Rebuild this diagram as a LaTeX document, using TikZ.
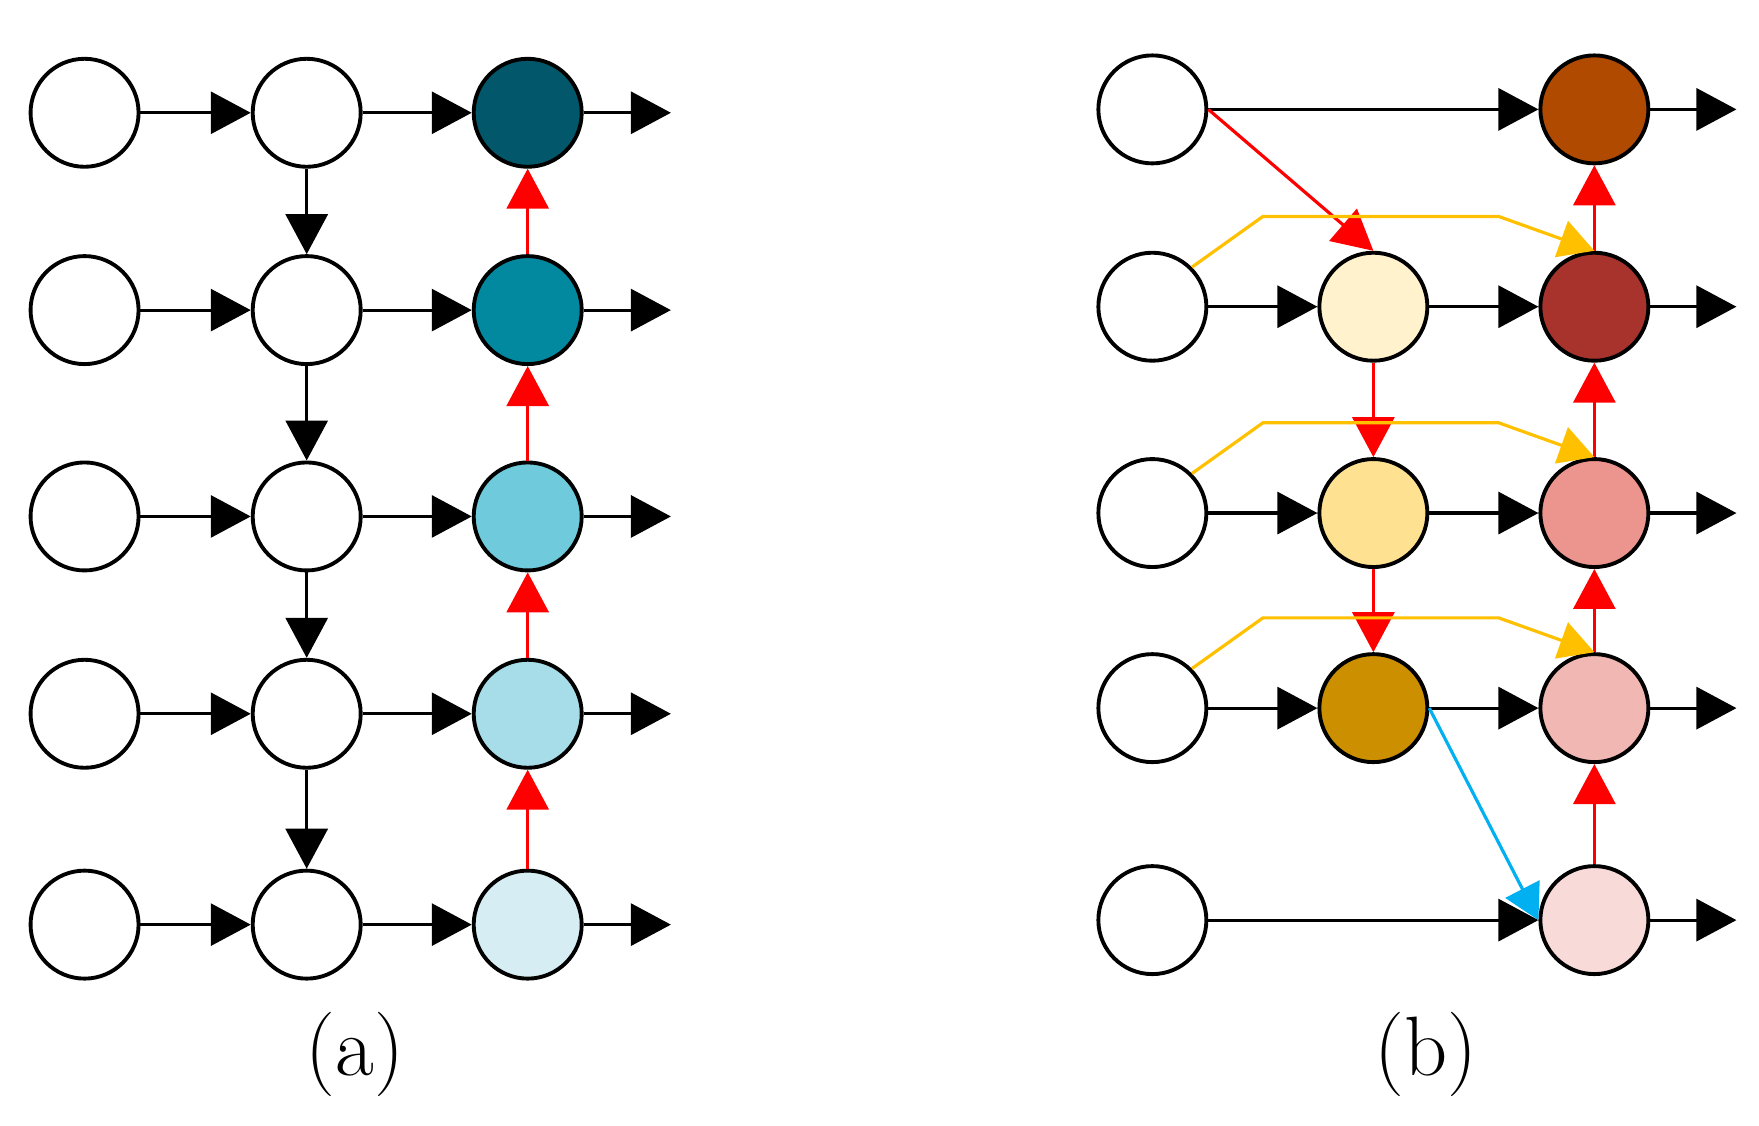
\documentclass[tikz,border=0pt]{standalone}
\usetikzlibrary{arrows.meta}
\definecolor{a1}{HTML}{02586A}\definecolor{a2}{HTML}{02889F}\definecolor{a3}{HTML}{6FCBDC}\definecolor{a4}{HTML}{A6DDE9}\definecolor{a5}{HTML}{D6EEF3}
\definecolor{b1}{HTML}{B04A00}\definecolor{b2}{HTML}{A8332C}\definecolor{b3}{HTML}{EC958E}\definecolor{b4}{HTML}{F1B7B2}\definecolor{b5}{HTML}{F8DAD8}
\definecolor{c2}{HTML}{FFF2CC}\definecolor{c3}{HTML}{FFE291}\definecolor{c4}{HTML}{CC8F00}
\definecolor{org}{HTML}{FFC000}\definecolor{blu}{HTML}{00B0F0}
\begin{document}
\begin{tikzpicture}[x=0.01128cm,y=-0.01128cm,
 nd/.style={circle,draw,line width=1.1pt,minimum size=1.08cm,inner sep=0pt,fill=white},
 ar/.style={line width=0.9pt,-{Triangle[length=0.4cm,width=0.42cm]}},
 rar/.style={ar,red},
 oar/.style={line width=0.9pt,org,-{Triangle[length=0.35cm,width=0.38cm]}},
 bar/.style={line width=0.9pt,blu,-{Triangle[length=0.35cm,width=0.38cm]}}]
\useasboundingbox (0,0) rectangle (1560,998.6);
% (a)
\foreach \r/\y in {1/100,2/275,3/458,4/633,5/820}{
 \node[nd] (a1\r) at (75,\y) {};
 \node[nd] (a2\r) at (272,\y) {};
 \coordinate (ae\r) at (595,\y);}
\node[nd,fill=a1] (a31) at (468,100) {};
\node[nd,fill=a2] (a32) at (468,275) {};
\node[nd,fill=a3] (a33) at (468,458) {};
\node[nd,fill=a4] (a34) at (468,633) {};
\node[nd,fill=a5] (a35) at (468,820) {};
\foreach \r in {1,...,5}{
 \draw[ar] (a1\r) -- (a2\r);
 \draw[ar] (a2\r) -- (a3\r);
 \draw[ar] (a3\r) -- (ae\r);}
\foreach \r/\s in {1/2,2/3,3/4,4/5}{
 \draw[ar] (a2\r) -- (a2\s);
 \draw[rar] (a3\s) -- (a3\r);}
\node[font=\fontsize{24}{28}\selectfont] (la) at (315,935) {(a)};
% (b)
\foreach \r/\y in {1/97,2/272,3/455,4/628,5/816}{
 \node[nd] (b1\r) at (1022,\y) {};
 \coordinate (be\r) at (1540,\y);}
\node[nd,fill=c2] (b22) at (1218,272) {};
\node[nd,fill=c3] (b23) at (1218,455) {};
\node[nd,fill=c4] (b24) at (1218,628) {};
\node[nd,fill=b1] (b31) at (1414,97) {};
\node[nd,fill=b2] (b32) at (1414,272) {};
\node[nd,fill=b3] (b33) at (1414,455) {};
\node[nd,fill=b4] (b34) at (1414,628) {};
\node[nd,fill=b5] (b35) at (1414,816) {};
\draw[ar] (b11) -- (b31);
\draw[ar] (b15) -- (b35);
\foreach \r in {2,3,4}{
 \draw[ar] (b1\r) -- (b2\r);
 \draw[ar] (b2\r) -- (b3\r);}
\foreach \r in {1,...,5}{\draw[ar] (b3\r) -- (be\r);}
\draw[rar] (b11.east) -- (b22.north);
\draw[rar] (b22) -- (b23);
\draw[rar] (b23) -- (b24);
\foreach \r/\s in {1/2,2/3,3/4,4/5}{\draw[rar] (b3\s) -- (b3\r);}
\draw[oar] (b12.north east) -- ++(63,-45) -- ++(209,0) -- (b32.north);
\draw[oar] (b13.north east) -- ++(63,-45) -- ++(209,0) -- (b33.north);
\draw[oar] (b14.north east) -- ++(63,-45) -- ++(209,0) -- (b34.north);
\draw[bar] (b24.east) -- (b35.west);
\node[font=\fontsize{24}{28}\selectfont] (lb) at (1265,935) {(b)};
\end{tikzpicture}
\end{document}
